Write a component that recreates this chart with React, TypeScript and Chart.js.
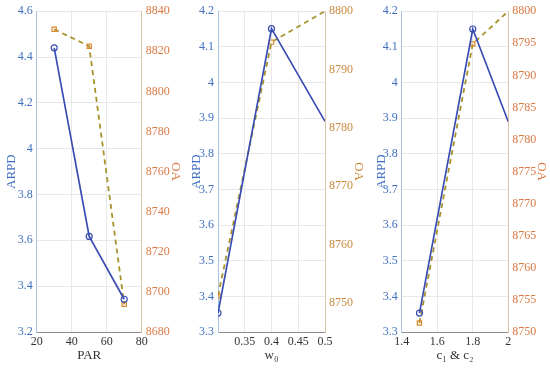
import React, { useEffect, useRef } from "react";
import { Chart, registerables } from "chart.js";

Chart.register(...registerables);

// ---- Data ----
const PAR_X = [30, 50, 70];
const PAR_ARPD = [4.44, 3.617, 3.343];
const PAR_OA = [8831, 8822.5, 8693.8];

const W0_X = [0.3, 0.4, 0.5];
const W0_ARPD = [3.353, 4.151, 3.891];
const W0_OA = [8751.2, 8794.7, 8800];

const C_X = [1.5, 1.8, 2.0];
const C_ARPD = [3.353, 4.15, 3.89];
const C_OA = [8751.4, 8794.9, 8800];

// ---- Ticks ----
const PAR_XTICKS = [20, 40, 60, 80];
const PAR_XLABELS = ["20", "40", "60", "80"];
const PAR_LTICKS = [3.2, 3.4, 3.6, 3.8, 4.0, 4.2, 4.4, 4.6];
const PAR_LLABELS = ["3.2", "3.4", "3.6", "3.8", "4", "4.2", "4.4", "4.6"];
const PAR_RTICKS = [8680, 8700, 8720, 8740, 8760, 8780, 8800, 8820, 8840];

const W0_XTICKS = [0.3, 0.35, 0.4, 0.45, 0.5];
const W0_XLABELS = ["", "0.35", "0.4", "0.45", "0.5"];
const W0_LTICKS = [3.3, 3.4, 3.5, 3.6, 3.7, 3.8, 3.9, 4.0, 4.1, 4.2];
const W0_LLABELS = ["3.3", "3.4", "3.5", "3.6", "3.7", "3.8", "3.9", "4", "4.1", "4.2"];
const W0_RTICKS = [8750, 8760, 8770, 8780, 8790, 8800];

const C_XTICKS = [1.4, 1.6, 1.8, 2.0];
const C_XLABELS = ["1.4", "1.6", "1.8", "2"];
const C_LTICKS = W0_LTICKS;
const C_LLABELS = W0_LLABELS;
const C_RTICKS = [8750, 8755, 8760, 8765, 8770, 8775, 8780, 8785, 8790, 8795, 8800];

const BLUE_LINE = "#3a4db3";
const BLUE_TEXT = "#3f6fc2";
const ORANGE_TEXT = "#dc7a45";
const DASH_COLOR = "#a8922c";
const SQUARE_COLOR = "#d98a2e";
const FONT = "'Liberation Serif', 'Times New Roman', serif";

type PanelDef = {
  left: number;
  width: number;
  xs: number[];
  arpd: number[];
  oa: number[];
  xTitle: string;
  xMin: number;
  xMax: number;
  xTicks: number[];
  xLabels: string[];
  lMin: number;
  lMax: number;
  lTicks: number[];
  lLabels: string[];
  rMin: number;
  rMax: number;
  rTicks: number[];
  leftW: number;
  rightW: number;
  leftTitlePad: number;
  rightTitlePad: number;
  rightColor: string;
  pointRadii: number[];
};

const PANELS: PanelDef[] = [
  {
    left: 0, width: 183, xs: PAR_X, arpd: PAR_ARPD, oa: PAR_OA, xTitle: "PAR",
    xMin: 20, xMax: 80, xTicks: PAR_XTICKS, xLabels: PAR_XLABELS,
    lMin: 3.2, lMax: 4.6, lTicks: PAR_LTICKS, lLabels: PAR_LLABELS,
    rMin: 8680, rMax: 8840, rTicks: PAR_RTICKS,
    leftW: 36.7, rightW: 41.3, leftTitlePad: 4, rightTitlePad: 0, rightColor: ORANGE_TEXT,
    pointRadii: [3, 3, 3],
  },
  {
    left: 183, width: 183, xs: W0_X, arpd: W0_ARPD, oa: W0_OA, xTitle: "w\u2080",
    xMin: 0.3, xMax: 0.5, xTicks: W0_XTICKS, xLabels: W0_XLABELS,
    lMin: 3.3, lMax: 4.2, lTicks: W0_LTICKS, lLabels: W0_LLABELS,
    rMin: 8745, rMax: 8800, rTicks: W0_RTICKS,
    leftW: 35, rightW: 41, leftTitlePad: 6, rightTitlePad: 0, rightColor: "#c98a3e",
    pointRadii: [3, 3, 0],
  },
  {
    left: 366, width: 184, xs: C_X, arpd: C_ARPD, oa: C_OA, xTitle: "c\u2081 & c\u2082",
    xMin: 1.4, xMax: 2.0, xTicks: C_XTICKS, xLabels: C_XLABELS,
    lMin: 3.3, lMax: 4.2, lTicks: C_LTICKS, lLabels: C_LLABELS,
    rMin: 8750, rMax: 8800, rTicks: C_RTICKS,
    leftW: 35.7, rightW: 41.7, leftTitlePad: 8, rightTitlePad: 1, rightColor: ORANGE_TEXT,
    pointRadii: [3, 3, 0],
  },
];

function Panel({ def }: { def: PanelDef }) {
  const ref = useRef<HTMLCanvasElement | null>(null);
  useEffect(() => {
    if (!ref.current) return;
    const tickFont = { family: FONT, size: 12 };
    const titleFont = { family: FONT, size: 13 };
    const chart = new Chart(ref.current, {
      type: "line",
      data: {
        datasets: [
          {
            label: "ARPD",
            data: def.xs.map((x, i) => ({ x, y: def.arpd[i] })),
            yAxisID: "yL",
            borderColor: BLUE_LINE,
            borderWidth: 1.7,
            pointStyle: "circle",
            pointRadius: def.pointRadii,
            pointBorderColor: BLUE_LINE,
            pointBackgroundColor: "rgba(0,0,0,0)",
            pointBorderWidth: 1.2,
            tension: 0,
            clip: 0,
          },
          {
            label: "OA",
            data: def.xs.map((x, i) => ({ x, y: def.oa[i] })),
            yAxisID: "yR",
            borderColor: DASH_COLOR,
            borderWidth: 1.8,
            borderDash: [5, 4],
            pointStyle: "rect",
            pointRadius: def.pointRadii,
            pointBorderColor: SQUARE_COLOR,
            pointBackgroundColor: "rgba(0,0,0,0)",
            pointBorderWidth: 1.2,
            tension: 0,
            clip: 0,
          },
        ],
      },
      options: {
        animation: false,
        responsive: false,
        maintainAspectRatio: false,
        layout: { padding: { top: 11, left: 0, right: 0, bottom: 0 } },
        plugins: { legend: { display: false }, tooltip: { enabled: false } },
        scales: {
          x: {
            type: "linear",
            min: def.xMin,
            max: def.xMax,
            afterBuildTicks: (s: any) => {
              s.ticks = def.xTicks.map((v) => ({ value: v }));
            },
            afterFit: (s: any) => {
              s.height = 38;
            },
            ticks: {
              autoSkip: false,
              maxRotation: 0,
              padding: 3,
              color: "#333333",
              font: tickFont,
              callback: (_v: any, i: number) => def.xLabels[i],
            },
            grid: { color: "#e8e8e8", drawTicks: false, lineWidth: 1 },
            border: { color: "#8c8c8c", width: 1 },
            title: {
              display: true,
              text: def.xTitle,
              color: "#333333",
              font: titleFont,
              padding: { top: 0, bottom: 7 },
            },
          },
          yL: {
            type: "linear",
            position: "left",
            min: def.lMin,
            max: def.lMax,
            afterBuildTicks: (s: any) => {
              s.ticks = def.lTicks.map((v) => ({ value: v }));
            },
            afterFit: (s: any) => {
              s.width = def.leftW;
            },
            ticks: {
              autoSkip: false,
              padding: 4,
              color: BLUE_TEXT,
              font: tickFont,
              callback: (_v: any, i: number) => def.lLabels[i],
            },
            grid: { color: "#e8e8e8", drawTicks: false, lineWidth: 1 },
            border: { color: "#a9c3e3", width: 1 },
            title: {
              display: true,
              text: "ARPD",
              color: BLUE_TEXT,
              font: titleFont,
              padding: { top: def.leftTitlePad, bottom: 0 },
            },
          },
          yR: {
            type: "linear",
            position: "right",
            min: def.rMin,
            max: def.rMax,
            afterBuildTicks: (s: any) => {
              s.ticks = def.rTicks.map((v) => ({ value: v }));
            },
            afterFit: (s: any) => {
              s.width = def.rightW;
            },
            ticks: {
              autoSkip: false,
              padding: 4,
              color: def.rightColor,
              font: tickFont,
              callback: (v: any) => String(v),
            },
            grid: { display: false, drawTicks: false },
            border: { color: "#dcc4a6", width: 1 },
            title: {
              display: true,
              text: "OA",
              color: def.rightColor,
              font: titleFont,
              padding: { top: def.rightTitlePad, bottom: 0 },
            },
          },
        },
      } as any,
    });
    return () => chart.destroy();
  }, [def]);
  return (
    <div
      style={{
        position: "absolute",
        left: def.left,
        top: 0,
        width: def.width,
        height: 370,
      }}
    >
      <canvas ref={ref} width={def.width} height={370} style={{ display: "block" }} />
    </div>
  );
}

export default function App() {
  return (
    <div
      style={{
        position: "fixed",
        left: 0,
        top: 0,
        width: 550,
        height: 370,
        background: "#ffffff",
        overflow: "hidden",
      }}
    >
      {PANELS.map((p, i) => (
        <Panel key={i} def={p} />
      ))}
    </div>
  );
}
